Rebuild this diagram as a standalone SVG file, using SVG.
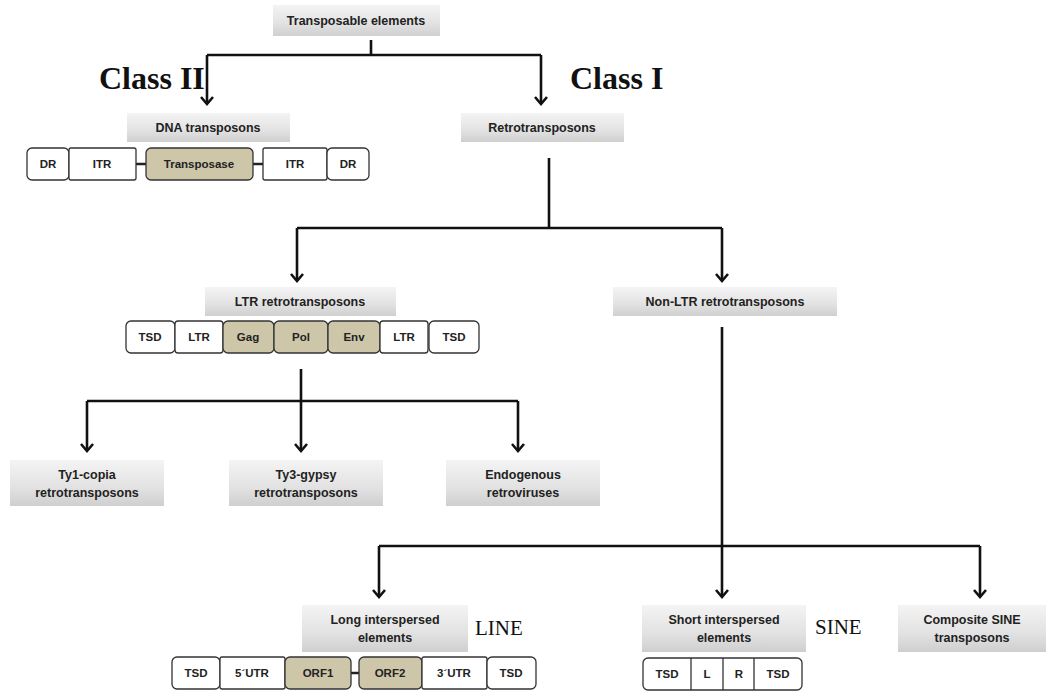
<svg xmlns="http://www.w3.org/2000/svg" width="1046" height="691" viewBox="0 0 1046 691">
<defs>
<linearGradient id="g" x1="0" y1="0" x2="0" y2="1">
<stop offset="0" stop-color="#f4f4f4"/>
<stop offset="0.6" stop-color="#e2e2e2"/>
<stop offset="1" stop-color="#cfcfcf"/>
</linearGradient>
<marker id="ah" viewBox="-8 -8 16 16" markerWidth="16" markerHeight="16" refX="0" refY="0" orient="auto" markerUnits="userSpaceOnUse">
<path d="M-7,-6 L0,0 L-7,6" fill="none" stroke="#111" stroke-width="2.6" stroke-linejoin="miter"/>
</marker>
</defs>
<style>
.box{fill:url(#g)}
.t{font-family:"Liberation Sans",Arial,sans-serif;font-weight:bold;font-size:12.5px;fill:#222;text-anchor:middle}
.s{font-family:"Liberation Sans",Arial,sans-serif;font-weight:bold;font-size:11.5px;fill:#222;text-anchor:middle}
.seg{fill:#fff;stroke:#333;stroke-width:1.3}
.orf{fill:#cdc6a9;stroke:#333;stroke-width:1.3}
.ln{fill:none;stroke:#111;stroke-width:2.6}
.cl{font-family:"Liberation Serif","Times New Roman",serif;font-weight:bold;font-size:32px;fill:#111}
.ab{font-family:"Liberation Serif","Times New Roman",serif;font-size:21px;fill:#111}
.conn{fill:none;stroke:#222;stroke-width:2.5}
</style>
<rect width="1046" height="691" fill="#fff"/>

<g id="connectors">
<path class="ln" d="M371,40 V55"/>
<path class="ln" d="M207,55 H541"/>
<path class="ln" d="M207,55 V104" marker-end="url(#ah)"/>
<path class="ln" d="M541,55 V104" marker-end="url(#ah)"/>
<path class="ln" d="M549,158 V228"/>
<path class="ln" d="M297,228 H722"/>
<path class="ln" d="M297,228 V281" marker-end="url(#ah)"/>
<path class="ln" d="M722,228 V281" marker-end="url(#ah)"/>
<path class="ln" d="M301,369 V451" marker-end="url(#ah)"/>
<path class="ln" d="M87,401 H518"/>
<path class="ln" d="M87,401 V451" marker-end="url(#ah)"/>
<path class="ln" d="M518,401 V451" marker-end="url(#ah)"/>
<path class="ln" d="M722,327 V597" marker-end="url(#ah)"/>
<path class="ln" d="M379,546 H980"/>
<path class="ln" d="M379,546 V597" marker-end="url(#ah)"/>
<path class="ln" d="M980,546 V597" marker-end="url(#ah)"/>
</g>

<text class="cl" x="99" y="89">Class II</text>
<text class="cl" x="570" y="89">Class I</text>

<g id="n-te"><rect class="box" x="273" y="5" width="167" height="31"/><text class="t" x="356" y="25">Transposable elements</text></g>
<g id="n-dna"><rect class="box" x="127" y="113" width="163" height="29"/><text class="t" x="208" y="132">DNA transposons</text></g>
<g id="n-retro"><rect class="box" x="461" y="113" width="163" height="29"/><text class="t" x="542" y="132">Retrotransposons</text></g>

<g id="dna-struct">
<path class="conn" d="M136,164 H146 M253,164 H263"/>
<rect class="seg" x="27" y="148" width="42" height="32" rx="5"/>
<rect class="seg" x="69" y="148" width="67" height="32" rx="2"/>
<rect class="orf" x="146" y="148" width="107" height="32" rx="5"/>
<rect class="seg" x="263" y="148" width="64" height="32" rx="2"/>
<rect class="seg" x="327" y="148" width="42" height="32" rx="5"/>
<text class="s" x="48" y="168">DR</text>
<text class="s" x="102" y="168">ITR</text>
<text class="s" x="199" y="168">Transposase</text>
<text class="s" x="295" y="168">ITR</text>
<text class="s" x="348" y="168">DR</text>
</g>

<g id="n-ltr"><rect class="box" x="205" y="287" width="191" height="29"/><text class="t" x="300" y="306">LTR retrotransposons</text></g>
<g id="n-nonltr"><rect class="box" x="613" y="287" width="224" height="29"/><text class="t" x="725" y="306">Non-LTR retrotransposons</text></g>

<g id="ltr-struct">
<rect class="seg" x="126" y="321" width="49" height="32" rx="5"/>
<rect class="seg" x="175" y="321" width="48" height="32" rx="3"/>
<rect class="orf" x="223" y="321" width="51" height="32" rx="5"/>
<rect class="orf" x="274" y="321" width="54" height="32" rx="5"/>
<rect class="orf" x="328" y="321" width="52" height="32" rx="5"/>
<rect class="seg" x="380" y="321" width="48" height="32" rx="3"/>
<rect class="seg" x="429" y="321" width="50" height="32" rx="5"/>
<text class="s" x="150" y="341">TSD</text>
<text class="s" x="199" y="341">LTR</text>
<text class="s" x="248" y="341">Gag</text>
<text class="s" x="301" y="341">Pol</text>
<text class="s" x="354" y="341">Env</text>
<text class="s" x="404" y="341">LTR</text>
<text class="s" x="454" y="341">TSD</text>
</g>

<g id="n-ty1"><rect class="box" x="10" y="460" width="154" height="46"/><text class="t" x="87" y="479">Ty1-copia</text><text class="t" x="87" y="497">retrotransposons</text></g>
<g id="n-ty3"><rect class="box" x="229" y="460" width="154" height="46"/><text class="t" x="306" y="479">Ty3-gypsy</text><text class="t" x="306" y="497">retrotransposons</text></g>
<g id="n-erv"><rect class="box" x="446" y="460" width="154" height="46"/><text class="t" x="523" y="479">Endogenous</text><text class="t" x="523" y="497">retroviruses</text></g>

<g id="n-line"><rect class="box" x="302" y="605" width="166" height="47"/><text class="t" x="385" y="624">Long interspersed</text><text class="t" x="385" y="642">elements</text></g>
<text class="ab" x="475" y="635">LINE</text>
<g id="n-sine"><rect class="box" x="642" y="605" width="164" height="47"/><text class="t" x="724" y="624">Short interspersed</text><text class="t" x="724" y="642">elements</text></g>
<text class="ab" x="815" y="634">SINE</text>
<g id="n-comp"><rect class="box" x="898" y="605" width="148" height="47"/><text class="t" x="972" y="624">Composite SINE</text><text class="t" x="972" y="642">transposons</text></g>

<g id="line-struct">
<path class="conn" d="M351,673 H359"/>
<rect class="seg" x="172" y="657" width="48" height="32" rx="5"/>
<rect class="seg" x="220" y="657" width="65" height="32" rx="2"/>
<rect class="orf" x="285" y="657" width="66" height="32" rx="5"/>
<rect class="orf" x="359" y="657" width="63" height="32" rx="5"/>
<rect class="seg" x="422" y="657" width="65" height="32" rx="2"/>
<rect class="seg" x="487" y="657" width="49" height="32" rx="5"/>
<text class="s" x="196" y="677">TSD</text>
<text class="s" x="252" y="677">5´UTR</text>
<text class="s" x="318" y="677">ORF1</text>
<text class="s" x="390" y="677">ORF2</text>
<text class="s" x="454" y="677">3´UTR</text>
<text class="s" x="511" y="677">TSD</text>
</g>

<g id="sine-struct">
<rect class="seg" x="643" y="658" width="159" height="32" rx="5"/>
<path class="seg" d="M691,658 V690 M723,658 V690 M754,658 V690"/>
<text class="s" x="667" y="678">TSD</text>
<text class="s" x="707" y="678">L</text>
<text class="s" x="739" y="678">R</text>
<text class="s" x="778" y="678">TSD</text>
</g>
</svg>
